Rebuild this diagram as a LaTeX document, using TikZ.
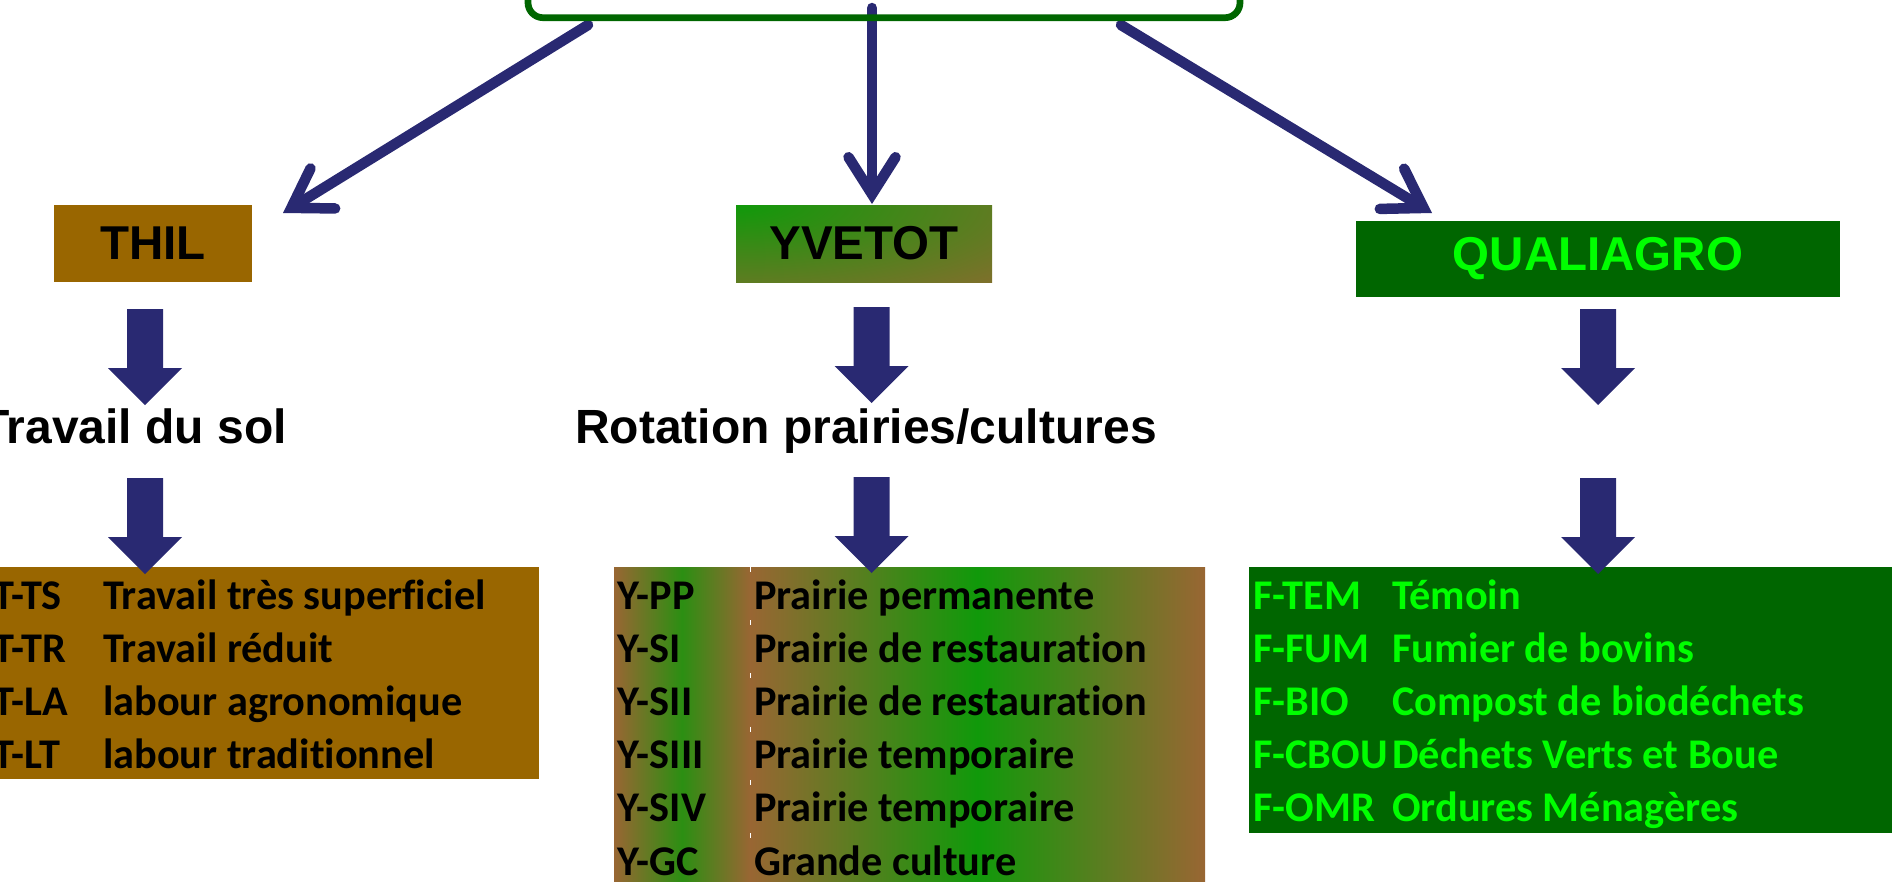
\documentclass[tikz,border=0pt]{standalone}
\usepackage{fontspec}
\setmainfont{Liberation Sans}
\newfontfamily\calfont{Carlito}[Ligatures=NoCommon]
\usetikzlibrary{arrows.meta}
\definecolor{navy}{RGB}{41,41,114}
\definecolor{thilbrown}{RGB}{153,102,0}
\definecolor{ybrown}{RGB}{153,102,51}
\definecolor{ygreen}{RGB}{16,153,10}
\definecolor{qdark}{RGB}{0,102,0}
\definecolor{qlight}{RGB}{0,255,0}
\begin{document}
\begin{tikzpicture}[x=1pt,y=-1pt,
  thinarrow/.style={draw=navy, line width=10.5pt, line cap=round,
    -{Straight Barb[length=37pt,width=47pt,line cap=round,line join=miter]}},
  blockarrow/.pic={\fill[navy] (-18,0) -- (18,0) -- (18,59) -- (37,59) -- (0,96) -- (-37,59) -- (-18,59) -- cycle;},
  headbox/.style={font=\fontsize{47.5}{55}\selectfont\bfseries, inner sep=0pt, text=black},
  subtitle/.style={font=\fontsize{48}{56}\selectfont\bfseries, inner sep=0pt, text=black},
  tabtext/.style={font=\calfont\fontsize{42.3}{50}\selectfont\bfseries, inner sep=0pt, anchor=base west},
]
\useasboundingbox (0,0) rectangle (1892,881);
\clip (0,0) rectangle (1892,881);

% ---- tables
\node[fill=thilbrown, inner sep=0pt, minimum width=559pt, minimum height=212pt] (thiltab) at (259.5,673) {};
\shade[left color=ybrown, right color=ybrown, middle color=ygreen!80!ybrown] (614,567) rectangle (750,900);
\shade[left color=ybrown, right color=ybrown, middle color=ygreen] (750,567) rectangle (1205,900);
\node[inner sep=0pt, minimum width=591pt, minimum height=333pt] (ytab) at (909.5,733.5) {};
\foreach \k in {0,...,5}{
  \draw[white, line width=1pt] (750,567+53.2*\k) -- ++(0,5);
}
\node[fill=qdark, inner sep=0pt, minimum width=661pt, minimum height=266pt] (qtab) at (1579.5,700) {};

\foreach \a/\b [count=\i from 0] in {T-TS/Travail très superficiel, T-TR/Travail réduit, T-LA/labour agronomique, T-LT/labour traditionnel}{
  \node[tabtext] (tc\i) at (-7,609+53.2*\i) {\a};
  \node[tabtext] (td\i) at (103,609+53.2*\i) {\b};
}
\foreach \a/\b [count=\i from 0] in {Y-PP/Prairie permanente, Y-SI/Prairie de restauration, Y-SII/Prairie de restauration, Y-SIII/Prairie temporaire, Y-SIV/Prairie temporaire, Y-GC/Grande culture}{
  \node[tabtext] (yc\i) at (617,609+53.2*\i) {\a};
  \node[tabtext] (yd\i) at (754,609+53.2*\i) {\b};
}
\foreach \a/\b [count=\i from 0] in {F-TEM/Témoin, F-FUM/Fumier de bovins, F-BIO/Compost de biodéchets, F-CBOU/Déchets Verts et Boue, F-OMR/Ordures Ménagères}{
  \node[tabtext, text=qlight] (fc\i) at (1253,609+53.2*\i) {\a};
  \node[tabtext, text=qlight] (fd\i) at (1392,609+53.2*\i) {\b};
}

% ---- header boxes
\node[headbox, fill=thilbrown, minimum width=198pt, minimum height=77pt] (thil) at (153,243.5) {THIL};
\node[headbox, minimum width=256pt, minimum height=77pt,
  path picture={\shade[inner color=ygreen, outer color=ybrown]
    (path picture bounding box.north west) ellipse [x radius=450pt, y radius=135pt];}] (yvetot) at (864,243.5) {YVETOT};
\node[headbox, fill=qdark, text=qlight, minimum width=484pt, minimum height=76pt] (quali) at (1598,259) {QUALIAGRO};

% ---- subtitles
\node[subtitle, anchor=base east] (sol) at (287,443) {Travail du sol};
\node[subtitle, anchor=base] (rot) at (866,443) {Rotation prairies/cultures};

% ---- block arrows
\pic (ba1) at (145,309) {blockarrow};
\pic (ba2) at (145,478) {blockarrow};
\pic (bb1) at (871.5,307) {blockarrow};
\pic (bb2) at (871.5,477) {blockarrow};
\pic (bc1) at (1598,309) {blockarrow};
\pic (bc2) at (1598,478) {blockarrow};

% ---- top box and thin arrows
\coordinate (s1) at (588,25);
\coordinate (s2) at (872,8);
\coordinate (s3) at (1121,25);
\coordinate (e1) at (283,213);
\coordinate (e2) at (872,204);
\coordinate (e3) at (1432,213);
\draw[thinarrow] (s1) -- (e1);
\draw[thinarrow] (s2) -- (e2);
\draw[thinarrow] (s3) -- (e3);
\node[draw=qdark, line width=6.7pt, rounded corners=15pt, inner sep=0pt,
  minimum width=712pt, minimum height=100pt] (top) at (884,-32.3) {};
\end{tikzpicture}
\end{document}
